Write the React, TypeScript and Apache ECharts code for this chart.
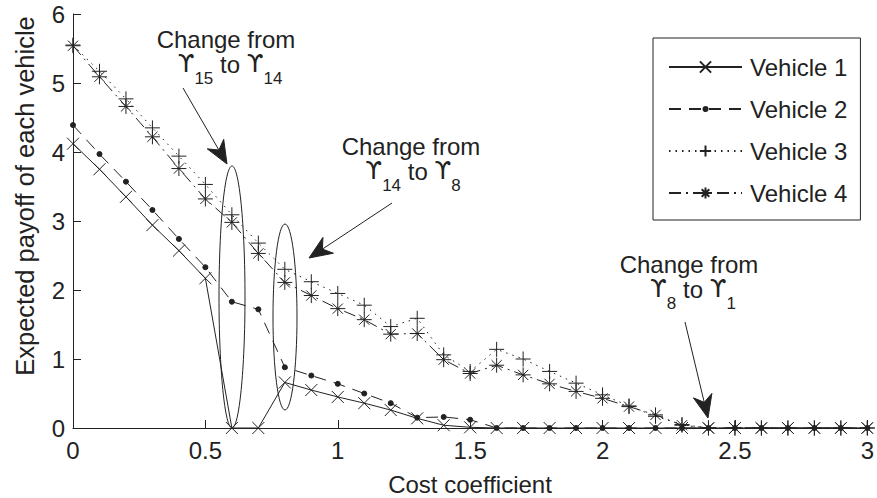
import React, { useEffect, useRef } from "react";
import * as echarts from "echarts";

// ---------- data ----------
const costCoefficients = [
  0, 0.1, 0.2, 0.3, 0.4, 0.5, 0.6, 0.7, 0.8, 0.9, 1.0,
  1.1, 1.2, 1.3, 1.4, 1.5, 1.6, 1.7, 1.8, 1.9, 2.0,
  2.1, 2.2, 2.3, 2.4, 2.5, 2.6, 2.7, 2.8, 2.9, 3.0,
];
const vehicle1 = [
  4.12, 3.75, 3.35, 2.94, 2.57, 2.17, 0, 0, 0.66, 0.55, 0.45,
  0.36, 0.26, 0.14, 0.04, 0.01, 0, 0, 0, 0, 0,
  0, 0, 0, 0, 0, 0, 0, 0, 0, 0,
];
const vehicle2 = [
  4.39, 3.97, 3.57, 3.16, 2.74, 2.33, 1.83, 1.72, 0.88, 0.76, 0.64,
  0.5, 0.36, 0.15, 0.16, 0.12, 0, 0, 0, 0, 0,
  0, 0, 0, 0, 0, 0, 0, 0, 0, 0,
];
const vehicle3 = [
  5.55, 5.17, 4.77, 4.35, 3.94, 3.53, 3.09, 2.68, 2.3, 2.12, 1.95,
  1.78, 1.47, 1.59, 1.06, 0.82, 1.14, 1.0, 0.82, 0.65, 0.48,
  0.32, 0.17, 0.05, 0, 0, 0, 0, 0, 0, 0,
];
const vehicle4 = [
  5.54, 5.09, 4.66, 4.22, 3.76, 3.32, 2.98, 2.53, 2.11, 1.92, 1.73,
  1.57, 1.36, 1.37, 0.99, 0.79, 0.91, 0.77, 0.64, 0.53, 0.43,
  0.31, 0.19, 0.04, 0, 0, 0, 0, 0, 0, 0,
];
const seriesNames = ["Vehicle 1", "Vehicle 2", "Vehicle 3", "Vehicle 4"];
const xAxisTitle = "Cost coefficient";
const yAxisTitle = "Expected payoff of each vehicle";

// ---------- styles ----------
const FONT = "'Liberation Sans', Arial, Helvetica, sans-serif";
const GREEK_FONT = "'DejaVu Sans', 'Noto Sans', sans-serif";
const INK = "#222222";
const FS = 24;
const SUB_FS = 17;

const SYM_CROSS = "path://M0 0L10 10M10 0L0 10";
const SYM_PLUS = "path://M5 0L5 10M0 5L10 5";
const SYM_STAR = "path://M5 0L5 10M0 5L10 5M1.6 1.6L8.4 8.4M8.4 1.6L1.6 8.4";
const SYM_DOT = "path://M0 0M10 10M3.2 5A1.8 1.8 0 1 0 6.8 5A1.8 1.8 0 1 0 3.2 5Z";

let measureCtx: CanvasRenderingContext2D | null = null;
function textWidth(text: string, size: number, family: string) {
  if (!measureCtx) {
    measureCtx = document.createElement("canvas").getContext("2d");
  }
  if (!measureCtx) return text.length * size * 0.55;
  measureCtx.font = `${size}px ${family}`;
  return measureCtx.measureText(text).width;
}

function makeSeries(
  name: string,
  values: number[],
  symbol: string,
  size: number,
  lineType: any,
  z: number
) {
  return {
    type: "line",
    name,
    data: costCoefficients.map((x, i) => [x, values[i]]),
    symbol,
    symbolSize: size,
    showAllSymbol: true,
    lineStyle: { color: INK, width: 1, type: lineType },
    itemStyle: { color: INK, borderColor: INK, borderWidth: 1 },
    emphasis: { disabled: true },
    silent: true,
    z,
  };
}

function arrow(x1: number, y1: number, x2: number, y2: number) {
  const dx = x2 - x1;
  const dy = y2 - y1;
  const len = Math.sqrt(dx * dx + dy * dy);
  const ux = dx / len;
  const uy = dy / len;
  const px = -uy;
  const py = ux;
  const L = 23;
  const W = 9.5;
  const notch = 0.3 * L;
  const bx = x2 - ux * L;
  const by = y2 - uy * L;
  const nx = x2 - ux * (L - notch);
  const ny = y2 - uy * (L - notch);
  return [
    {
      type: "line",
      shape: { x1, y1, x2: nx, y2: ny },
      style: { stroke: INK, lineWidth: 1 },
      silent: true,
    },
    {
      type: "polygon",
      shape: {
        points: [
          [x2, y2],
          [bx + px * W, by + py * W],
          [nx, ny],
          [bx - px * W, by - py * W],
        ],
      },
      style: { fill: INK, stroke: INK, lineWidth: 1 },
      silent: true,
    },
  ];
}

function plainText(text: string, x: number, y: number, size: number, family: string, align: string) {
  return {
    type: "text",
    x,
    y,
    silent: true,
    style: {
      text,
      fontFamily: family,
      fontSize: size,
      fill: INK,
      textAlign: align,
      textVerticalAlign: "middle",
    },
  };
}

function annotation(
  cx: number,
  y1: number,
  cx2: number,
  y2: number,
  fromSub: string,
  toSub: string
) {
  const pieces = [
    { t: "ϒ", size: FS, fam: GREEK_FONT, dy: 0 },
    { t: fromSub, size: SUB_FS, fam: FONT, dy: 14 },
    { t: " to ", size: FS, fam: FONT, dy: 0 },
    { t: "ϒ", size: FS, fam: GREEK_FONT, dy: 0 },
    { t: toSub, size: SUB_FS, fam: FONT, dy: 14 },
  ];
  const widths = pieces.map((p) => textWidth(p.t, p.size, p.fam));
  const total = widths.reduce((a, b) => a + b, 0);
  let x = cx2 - total / 2;
  const out: any[] = [plainText("Change from", cx, y1, FS, FONT, "center")];
  pieces.forEach((p, i) => {
    out.push(plainText(p.t, x, y2 + p.dy, p.size, p.fam, "left"));
    x += widths[i];
  });
  return out;
}

export default function App() {
  const ref = useRef<HTMLDivElement>(null);

  useEffect(() => {
    document.body.style.margin = "0";
    if (!ref.current) return;
    const chart = echarts.init(ref.current, undefined, { renderer: "svg" });

    const axisCommon = {
      type: "value",
      axisLine: { show: true, onZero: false, lineStyle: { color: INK, width: 1 } },
      axisTick: { show: true, inside: true, length: 8, lineStyle: { color: INK, width: 1 } },
      splitLine: { show: false },
    };

    chart.setOption({
      animation: false,
      backgroundColor: "#ffffff",
      grid: { left: 73, right: 9, top: 14, bottom: 70, containLabel: false },
      xAxis: {
        ...axisCommon,
        min: 0,
        max: 3,
        interval: 0.5,
        axisLabel: { color: INK, fontFamily: FONT, fontSize: FS, margin: 10 },
      },
      yAxis: {
        ...axisCommon,
        min: 0,
        max: 6,
        interval: 1,
        axisLabel: { color: INK, fontFamily: FONT, fontSize: FS, margin: 8 },
      },
      legend: {
        orient: "vertical",
        left: 653,
        top: 38,
        padding: [17, 13, 15, 15],
        itemWidth: 73,
        itemHeight: 14,
        itemGap: 18,
        borderColor: INK,
        borderWidth: 1,
        backgroundColor: "#ffffff",
        selectedMode: false,
        textStyle: {
          color: INK,
          fontFamily: FONT,
          fontSize: FS,
          lineHeight: 24,
          padding: [0, 0, 0, 3],
        },
        data: seriesNames,
      },
      series: [
        makeSeries(seriesNames[0], vehicle1, SYM_CROSS, 12, "solid", 4),
        makeSeries(seriesNames[1], vehicle2, SYM_DOT, 14, [12, 8], 5),
        makeSeries(seriesNames[2], vehicle3, SYM_PLUS, 15, [1.5, 5], 6),
        makeSeries(seriesNames[3], vehicle4, SYM_STAR, 15, [12, 5, 2, 5], 7),
      ],
      graphic: [
        {
          type: "text",
          x: 25,
          y: 196,
          rotation: Math.PI / 2,
          silent: true,
          style: {
            text: yAxisTitle,
            fontFamily: FONT,
            fontSize: 25.5,
            fill: INK,
            textAlign: "center",
            textVerticalAlign: "middle",
          },
        },
        plainText(xAxisTitle, 470, 484, FS, FONT, "center"),
        {
          type: "ellipse",
          shape: { cx: 232, cy: 297, rx: 13, ry: 131 },
          style: { fill: "none", stroke: INK, lineWidth: 1 },
          silent: true,
          z: 100,
        },
        {
          type: "ellipse",
          shape: { cx: 285, cy: 317, rx: 12, ry: 93 },
          style: { fill: "none", stroke: INK, lineWidth: 1 },
          silent: true,
          z: 100,
        },
        ...arrow(183, 88, 227, 164),
        ...arrow(392, 203, 309, 258),
        ...arrow(685, 322, 708, 418),
        ...annotation(226, 39, 230, 64, "15", "14"),
        ...annotation(411, 146, 413, 171, "14", "8"),
        ...annotation(689, 264, 693, 289, "8", "1"),
      ],
    });

    return () => {
      chart.dispose();
    };
  }, []);

  return <div ref={ref} style={{ width: 877, height: 498 }} />;
}
